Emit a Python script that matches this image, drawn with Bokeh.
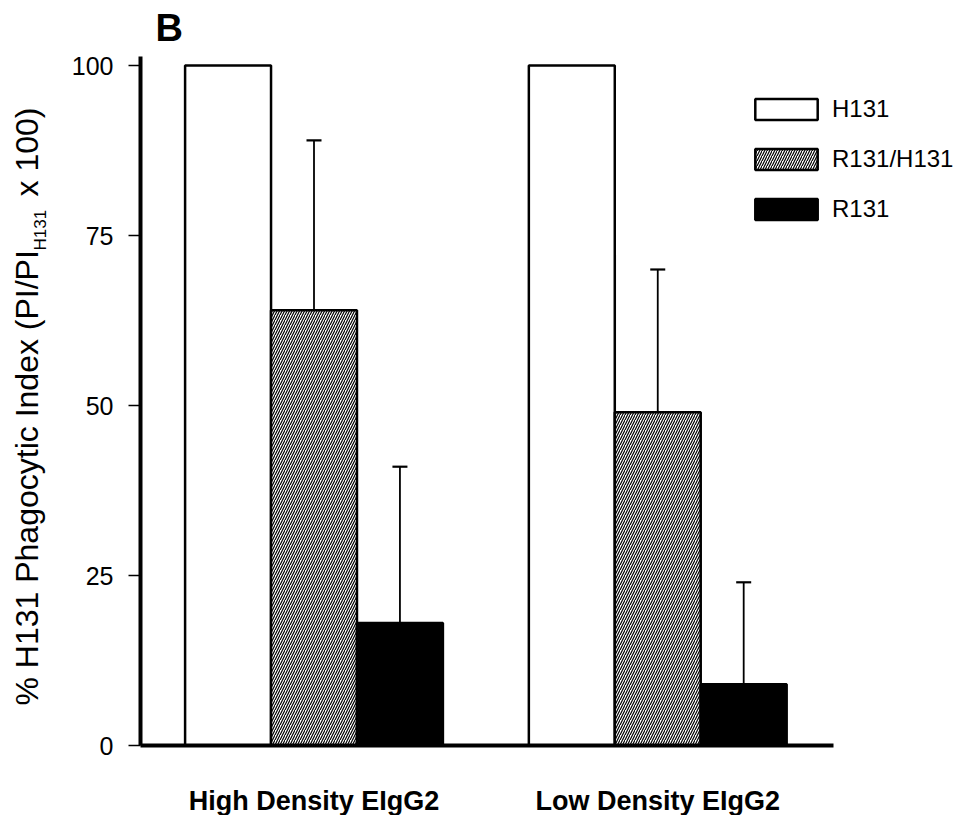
import math
from bokeh.plotting import figure
from bokeh.models import (ColumnDataSource, Range1d, FixedTicker, Whisker, TeeHead,
                          Legend, LegendItem, Label)
from bokeh.embed import file_html
from bokeh.resources import INLINE

# ---- data ----
groups = ["High Density EIgG2", "Low Density EIgG2"]
series = ["H131", "R131/H131", "R131"]
h131 = [100, 100]
r131h131 = [64, 49]
r131 = [18, 9]
r131h131_err_top = [89, 70]
r131_err_top = [41, 24]
y_ticks = [0, 25, 50, 75, 100]

group_pos = [1, 2]
offsets = [-0.25, 0.0, 0.25]
bar_w = 0.25

# ---- layout (pixels) ----
W, H = 960, 815
PX_PER_X = 343.75          # pixels per group unit
PX_PER_Y = 6.8             # pixels per percent
X1_PX = 313.5              # pixel of group 1 centre
Y0_PX = 745                # pixel of y = 0
AX_LEFT_PX, AX_RIGHT_PX, AX_TOP_PX = 140, 833, 56

x_start = 1 - X1_PX / PX_PER_X
y_start = -(H - Y0_PX) / PX_PER_Y


def px2x(px):
    return x_start + px / PX_PER_X


def px2y(py):
    return (Y0_PX - py) / PX_PER_Y


p = figure(width=W, height=H, output_backend="svg", toolbar_location=None,
           x_range=Range1d(x_start, x_start + W / PX_PER_X),
           y_range=Range1d(y_start, y_start + H / PX_PER_Y),
           min_border_left=0, min_border_right=0, min_border_top=0,
           min_border_bottom=0)
p.outline_line_color = None
p.xgrid.visible = False
p.ygrid.visible = False
p.background_fill_color = "white"
p.border_fill_color = "white"

FONT = "Liberation Sans"

src_h = ColumnDataSource(dict(x=[g + offsets[0] for g in group_pos], top=h131))
src_m = ColumnDataSource(dict(x=[g + offsets[1] for g in group_pos], top=r131h131,
                              upper=r131h131_err_top))
src_r = ColumnDataSource(dict(x=[g + offsets[2] for g in group_pos], top=r131,
                              upper=r131_err_top))

r_h = p.vbar(x="x", top="top", width=bar_w, bottom=0, source=src_h,
             fill_color="white", line_color="black", line_width=2.5)
r_m = p.vbar(x="x", top="top", width=bar_w, bottom=0, source=src_m,
             fill_color="white", line_color="black", line_width=2.5,
             hatch_pattern="/", hatch_color="black", hatch_scale=5, hatch_weight=1.2)
r_r = p.vbar(x="x", top="top", width=bar_w, bottom=0, source=src_r,
             fill_color="black", line_color="black", line_width=2.5)

for src in (src_m, src_r):
    w = Whisker(source=src, base="x", lower="top", upper="upper", dimension="height",
                line_color="black", line_width=1.8,
                upper_head=TeeHead(size=15, line_color="black", line_width=2.2),
                lower_head=None)
    p.add_layout(w)

# axes (fixed inside the frame so that every annotation stays unclipped)
p.xaxis.fixed_location = 0
p.xaxis.bounds = (px2x(AX_LEFT_PX), px2x(AX_RIGHT_PX))
p.xaxis.ticker = FixedTicker(ticks=group_pos)
p.xaxis.major_label_overrides = {g: n for g, n in zip(group_pos, groups)}
p.xaxis.major_tick_line_color = None
p.xaxis.minor_tick_line_color = None
p.xaxis.axis_line_width = 4
p.xaxis.axis_line_color = "black"
p.xaxis.major_label_text_font = FONT
p.xaxis.major_label_text_font_style = "bold"
p.xaxis.major_label_text_font_size = "27px"
p.xaxis.major_label_text_color = "black"
p.xaxis.major_label_standoff = 34

p.yaxis.fixed_location = px2x(AX_LEFT_PX)
p.yaxis.bounds = (0, px2y(AX_TOP_PX))
p.yaxis.ticker = FixedTicker(ticks=y_ticks)
p.yaxis.minor_tick_line_color = None
p.yaxis.major_tick_out = 12
p.yaxis.major_tick_in = 0
p.yaxis.major_tick_line_width = 1.5
p.yaxis.major_tick_line_color = "black"
p.yaxis.axis_line_width = 4
p.yaxis.axis_line_color = "black"
p.yaxis.major_label_text_font = FONT
p.yaxis.major_label_text_font_size = "25px"
p.yaxis.major_label_text_color = "black"
p.yaxis.major_label_standoff = 15

# legend
legend = Legend(items=[LegendItem(label=series[0], renderers=[r_h]),
                       LegendItem(label=series[1], renderers=[r_m]),
                       LegendItem(label=series[2], renderers=[r_r])],
                location=(747, H - 223.5), glyph_width=78, glyph_height=26,
                label_height=30, spacing=20, label_standoff=7, padding=0, margin=0,
                border_line_alpha=0, background_fill_alpha=0,
                label_text_font=FONT, label_text_font_size="24px",
                label_text_color="black")
p.add_layout(legend)

# y axis title with subscript (rotated)
ang = math.pi / 2
p.add_layout(Label(x=px2x(26), y=px2y(705), angle=ang,
                   text="% H131 Phagocytic Index (PI/PI", text_font=FONT,
                   text_font_size="32px", text_align="left", text_baseline="alphabetic",
                   text_color="black"))
p.add_layout(Label(x=px2x(40), y=px2y(250), angle=ang,
                   text="H131", text_font=FONT,
                   text_font_size="17px", text_align="left", text_baseline="alphabetic",
                   text_color="black"))
p.add_layout(Label(x=px2x(26), y=px2y(196), angle=ang,
                   text="x 100)", text_font=FONT,
                   text_font_size="32px", text_align="left", text_baseline="alphabetic",
                   text_color="black"))

# panel letter
p.add_layout(Label(x=px2x(155), y=px2y(27),
                   text="B", text_font=FONT, text_font_style="bold",
                   text_font_size="38px", text_align="left", text_baseline="alphabetic",
                   text_color="black"))

open("out.html", "w").write(file_html(p, INLINE))
